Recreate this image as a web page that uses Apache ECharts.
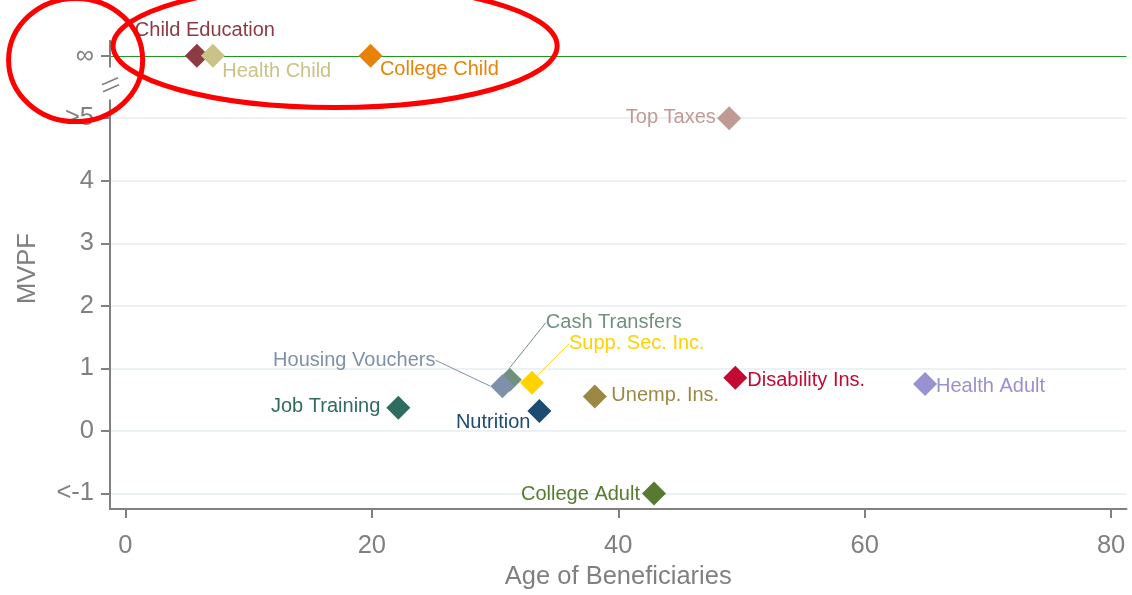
<!DOCTYPE html>
<html><head><meta charset="utf-8">
<script src="https://cdn.jsdelivr.net/npm/echarts@6/dist/echarts.min.js"></script>
<style>html,body{margin:0;padding:0;background:#fff}#c{width:1132px;height:595px}</style>
</head><body><div id="c"></div>
<script>
// ---- data ----
const programs = ['Child Education','Health Child','College Child','Top Taxes','Cash Transfers','Housing Vouchers','Supp. Sec. Inc.','Nutrition','Job Training','Unemp. Ins.','Disability Ins.','Health Adult','College Adult'];
const ages = [5.8, 7.1, 19.9, 49.0, 31.2, 30.6, 33.0, 33.6, 22.15, 38.1, 49.5, 64.9, 42.9];
const mvpf = [6, 6, 6, 5, 0.82, 0.715, 0.77, 0.32, 0.37, 0.55, 0.85, 0.75, -1];
const yTickValues = [-1, 0, 1, 2, 3, 4, 5, 6];
const yTickLabels = ['<-1', '0', '1', '2', '3', '4', '>5', '\u221E'];
const xTickValues = [0, 20, 40, 60, 80];
const gridValues = [-1, 0, 1, 2, 3, 4, 5];
const infinityValue = 6;

// ---- styles ----
const colors = ['#8c3a44','#cbc287','#e8830a','#c09b95','#71917f','#7d92aa','#ffd200','#1b4a73','#2f6b5f','#9c8845','#c20a33','#9891d2','#567a2f'];
const labelPlacement = {
  'Child Education': {position:'top', distance:5, dx:8, dy:2},
  'Health Child': {position:'right', distance:0, dx:-2.6, dy:16},
  'College Child': {position:'right', distance:0, dx:-2.7, dy:14},
  'Top Taxes': {position:'left', distance:1.3, dx:0, dy:-1},
  'Cash Transfers': {position:'right', distance:5, dx:19, dy:-57, line:true},
  'Housing Vouchers': {position:'left', distance:5, dx:-50, dy:-26, line:true},
  'Supp. Sec. Inc.': {position:'right', distance:5, dx:20, dy:-39, line:true},
  'Nutrition': {position:'left', distance:0, dx:3, dy:12},
  'Job Training': {position:'left', distance:6, dx:0, dy:-1},
  'Unemp. Ins.': {position:'right', distance:4.5, dx:0, dy:-1},
  'Disability Ins.': {position:'right', distance:0, dx:0, dy:3},
  'Health Adult': {position:'right', distance:0, dx:-1, dy:2},
  'College Adult': {position:'left', distance:2, dx:0, dy:1}
};
const FONT = "'Liberation Sans', Arial, sans-serif";
const AXIS_GRAY = '#808080';
const X_MIN = -1.25, X_MAX = 81.25, Y_MIN = -1.25, Y_MAX = 6.25;

const scatterData = programs.map((name, i) => {
  const p = labelPlacement[name];
  const item = {
    name: name,
    value: [ages[i], mvpf[i]],
    itemStyle: {color: colors[i], opacity: 1},
    label: {show: true, position: p.position, distance: p.distance,
            color: colors[i], fontSize: 20, fontFamily: FONT, formatter: '{b}'}
  };
  if (p.line) item.labelLine = {show: true, lineStyle: {color: colors[i], width: 1, opacity: 1}};
  return item;
});

const chart = echarts.init(document.getElementById('c'), null, {renderer: 'canvas'});
chart.setOption({
  animation: false,
  backgroundColor: '#ffffff',
  grid: {left: 110, right: 5.5, top: 40, bottom: 83, containLabel: false},
  xAxis: {
    type: 'value', min: X_MIN, max: X_MAX,
    name: 'Age of Beneficiaries', nameLocation: 'middle', nameGap: 51,
    nameTextStyle: {color: AXIS_GRAY, fontSize: 25.5, fontFamily: FONT},
    axisLine: {show: true, onZero: false, lineStyle: {color: AXIS_GRAY, width: 2}},
    axisTick: {show: true, length: 9, lineStyle: {color: AXIS_GRAY, width: 2}, customValues: xTickValues},
    axisLabel: {color: AXIS_GRAY, fontSize: 25.5, fontFamily: FONT, margin: 24, customValues: xTickValues},
    splitLine: {show: false}
  },
  yAxis: {
    type: 'value', min: Y_MIN, max: Y_MAX,
    name: 'MVPF', nameLocation: 'middle', nameGap: 69,
    nameTextStyle: {color: AXIS_GRAY, fontSize: 25.5, fontFamily: FONT, padding: [0,0,0,12]},
    axisLine: {show: false, onZero: false},
    axisTick: {show: true, length: 9, lineStyle: {color: AXIS_GRAY, width: 2}, customValues: yTickValues},
    axisLabel: {color: AXIS_GRAY, fontSize: 25.5, fontFamily: FONT, margin: 16, padding: [7,0,0,0], customValues: yTickValues,
      formatter: function (v) { const k = yTickValues.indexOf(Math.round(v * 100) / 100); return k >= 0 ? yTickLabels[k] : ''; }},
    splitLine: {show: false}
  },
  series: [
    {
      type: 'line', data: [], z: 1, silent: true,
      markLine: {
        z: 1, silent: true, symbol: ['none','none'], label: {show: false}, animation: false,
        lineStyle: {color: '#ecf1f4', width: 2, type: 'solid'},
        data: gridValues.map(v => ({yAxis: v}))
      }
    },
    {
      type: 'scatter', z: 10, symbol: 'diamond', symbolSize: 24,
      data: scatterData,
      labelLayout: function (params) {
        const p = labelPlacement[programs[params.dataIndex]];
        return {dx: p.dx, dy: p.dy};
      }
    }
  ]
});

// infinity line, y axis line with break, and annotation ellipses, through the axis scales
function px(x, y) { return chart.convertToPixel({gridIndex: 0}, [x, y]); }
const infL = px(X_MIN, infinityValue), infR = px(X_MAX, infinityValue);
const axisTop = px(X_MIN, Y_MAX), upperEnd = px(X_MIN, 5.81), lowerStart = px(X_MIN, 5.30), axisBottom = px(X_MIN, Y_MIN);
const brk = px(X_MIN, 5.55);
const ax = axisTop[0];
const unitX = px(1, 0)[0] - px(0, 0)[0];
const unitY = px(0, 0)[1] - px(0, 1)[1];
const ellipses = [
  {cx: 17.02, cy: 6.155, rx: 18.02, ry: 0.985},
  {cx: -4.04, cy: 5.93, rx: 5.44, ry: 0.985}
];
const graphics = [
  {type: 'line', z: 2, silent: true, shape: {x1: infL[0], y1: Math.round(infL[1]) + 0.5, x2: infR[0], y2: Math.round(infR[1]) + 0.5}, style: {stroke: '#1f9a1f', lineWidth: 1.2}},
  {type: 'line', z: 50, shape: {x1: ax, y1: axisTop[1], x2: ax, y2: upperEnd[1]}, style: {stroke: AXIS_GRAY, lineWidth: 2}},
  {type: 'line', z: 50, shape: {x1: ax, y1: lowerStart[1], x2: ax, y2: axisBottom[1] + 1}, style: {stroke: AXIS_GRAY, lineWidth: 2}},
  {type: 'line', z: 50, shape: {x1: ax - 8, y1: brk[1] + 1, x2: ax + 8, y2: brk[1] - 6}, style: {stroke: AXIS_GRAY, lineWidth: 1.6}},
  {type: 'line', z: 50, shape: {x1: ax - 7, y1: brk[1] + 8, x2: ax + 9, y2: brk[1] + 1}, style: {stroke: AXIS_GRAY, lineWidth: 1.6}}
];
ellipses.forEach(e => {
  const c = px(e.cx, e.cy);
  graphics.push({type: 'ellipse', z: 100, shape: {cx: c[0], cy: c[1], rx: e.rx * unitX, ry: e.ry * unitY},
    style: {fill: null, stroke: '#ff0000', lineWidth: 5}});
});
chart.setOption({graphic: graphics});
</script>
</body></html>
